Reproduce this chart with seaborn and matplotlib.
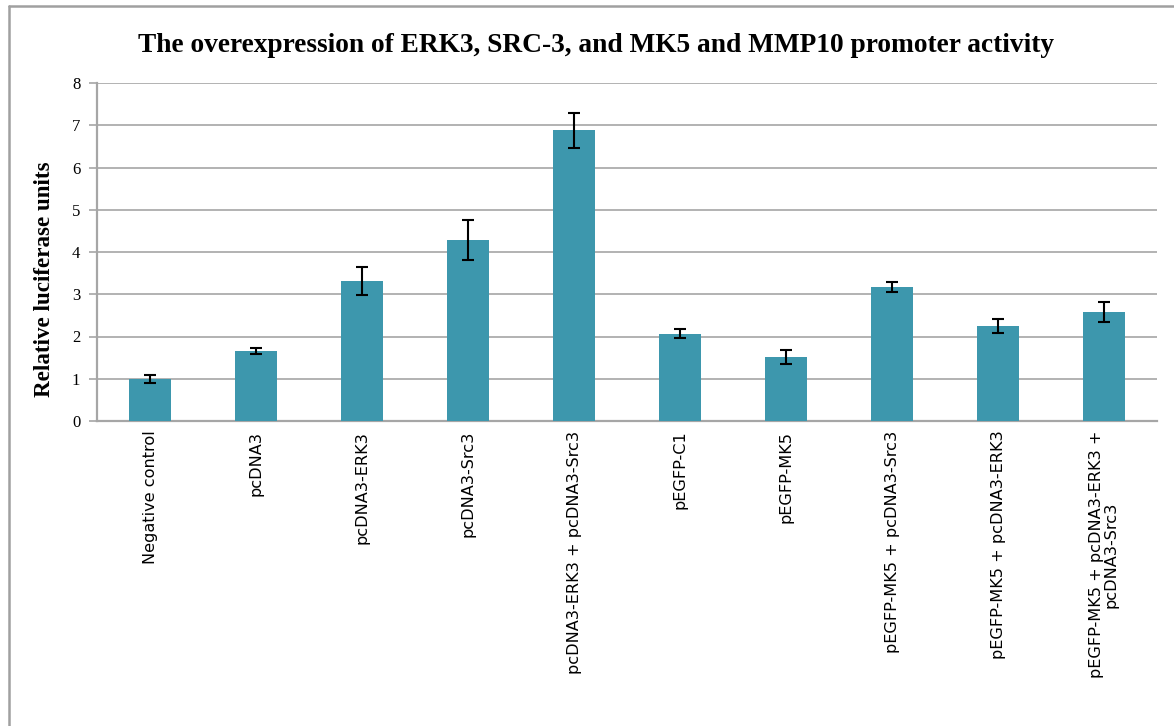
import matplotlib
matplotlib.use("Agg")
import matplotlib.pyplot as plt
from matplotlib.lines import Line2D
import seaborn as sns

# Reporter assay results
constructs = [
    "Negative control",
    "pcDNA3",
    "pcDNA3-ERK3",
    "pcDNA3-Src3",
    "pcDNA3-ERK3 + pcDNA3-Src3",
    "pEGFP-C1",
    "pEGFP-MK5",
    "pEGFP-MK5 + pcDNA3-Src3",
    "pEGFP-MK5 + pcDNA3-ERK3",
    "pEGFP-MK5 + pcDNA3-ERK3 +\npcDNA3-Src3",
]
luciferase = [1.00, 1.66, 3.31, 4.28, 6.88, 2.07, 1.51, 3.17, 2.25, 2.58]
std_err = [0.09, 0.07, 0.33, 0.48, 0.42, 0.10, 0.17, 0.12, 0.17, 0.23]
y_ticks = [0, 1, 2, 3, 4, 5, 6, 7, 8]

sns.set_theme(style="white")
plt.rcParams["font.family"] = ["DejaVu Sans"]
plt.rcParams["text.color"] = "black"
plt.rcParams["xtick.color"] = "black"
plt.rcParams["ytick.color"] = "black"

BAR = "#3d97ad"
GRID = "#a6a6a6"

fig = plt.figure(figsize=(11.74, 7.26), dpi=100)
ax = fig.add_axes([97 / 1174, 1 - 421 / 726, (1157 - 97) / 1174, (421 - 83) / 726])

sns.barplot(x=constructs, y=luciferase, color=BAR, saturation=1, width=0.4,
            edgecolor="none", ax=ax, zorder=3)
ax.errorbar(range(len(constructs)), luciferase, yerr=std_err, fmt="none",
            ecolor="black", elinewidth=1.5, capsize=4.5, capthick=1.5, zorder=4)

ax.set_ylim(0, 8)
ax.set_xlim(-0.5, len(constructs) - 0.5)
ax.set_yticks(y_ticks)
ax.set_yticklabels([str(t) for t in y_ticks], family="Liberation Serif", fontsize=12)
ax.yaxis.grid(True, color=GRID, linewidth=1.2, zorder=0)
ax.set_axisbelow(True)

ax.set_xticks(range(len(constructs)))
ax.set_xticklabels(constructs, rotation=90, fontsize=11.6, family="DejaVu Sans",
                   va="top", ha="center", linespacing=0.95)
ax.tick_params(axis="x", length=0, pad=7, labelcolor="black")
ax.tick_params(axis="y", direction="out", length=6, width=1.2, color=GRID, pad=6,
               left=True, labelcolor="black")

for side in ("top", "right"):
    ax.spines[side].set_visible(False)
for side in ("left", "bottom"):
    ax.spines[side].set_color(GRID)
    ax.spines[side].set_linewidth(1.6)

ax.set_ylabel("")
ax.set_xlabel("")

fig.text(0.508, 1 - 45 / 726,
         "The overexpression of ERK3, SRC-3, and MK5 and MMP10 promoter activity",
         ha="center", va="center", family="Liberation Serif", fontweight="bold",
         fontsize=19.7, color="black")
fig.text(45 / 1174, 1 - 279 / 726, "Relative luciferase units", rotation=90,
         ha="center", va="center", family="Liberation Serif", fontweight="bold",
         fontsize=16.6, color="black")

# chart frame
fig.add_artist(Line2D([9 / 1174, 9 / 1174], [0, 1 - 6 / 726], color="#a0a0a0",
                      linewidth=1.8, transform=fig.transFigure))
fig.add_artist(Line2D([9 / 1174, 1.0], [1 - 6 / 726, 1 - 6 / 726], color="#a0a0a0",
                      linewidth=1.8, transform=fig.transFigure))

fig.savefig("out.png", dpi=100, facecolor="white")
